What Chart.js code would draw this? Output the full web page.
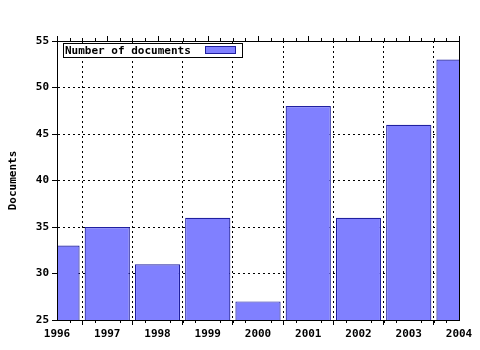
<!DOCTYPE html>
<html>
<head>
<meta charset="utf-8">
<script src="https://cdn.jsdelivr.net/npm/chart.js@4"></script>
<style>
  html, body { margin: 0; padding: 0; background: #fff; }
  #wrap { width: 480px; height: 350px; }
</style>
</head>
<body>
<div id="wrap"><canvas id="docs"></canvas></div>
<script>
const years = [1996, 1997, 1998, 1999, 2000, 2001, 2002, 2003, 2004];
const documents = [33, 35, 31, 36, 27, 48, 36, 46, 53];
const seriesLabel = 'Number of documents';
const yTicks = [25, 30, 35, 40, 45, 50, 55];

const FONT = '"DejaVu Sans Mono", "Liberation Mono", monospace';

// frame, top ticks, minor ticks and the boxed legend
const framePlugin = {
  id: 'frame',
  afterDraw(chart) {
    const ctx = chart.ctx;
    const a = chart.chartArea;
    const xs = chart.scales.x;
    ctx.save();
    ctx.strokeStyle = '#000';
    ctx.lineWidth = 1;
    ctx.setLineDash([]);
    ctx.strokeRect(Math.round(a.left) + 0.5, Math.round(a.top) + 0.5,
      Math.round(a.right - a.left), Math.round(a.bottom - a.top));

    ctx.beginPath();
    for (let i = 0; i < years.length; i++) {
      const px = Math.round(xs.getPixelForValue(years[i])) + 0.5;
      ctx.moveTo(px, a.top); ctx.lineTo(px, a.top - 5);
      if (i < years.length - 1) {
        for (let k = 1; k < 4; k++) {
          const mx = Math.round(xs.getPixelForValue(years[i] + k / 4)) + 0.5;
          ctx.moveTo(mx, a.top); ctx.lineTo(mx, a.top - 3);
          ctx.moveTo(mx, a.bottom); ctx.lineTo(mx, a.bottom + 3);
        }
      }
    }
    ctx.stroke();

    // legend
    const ds = chart.data.datasets[0];
    const lx = 63.5, ly = 43.5, lw = 179, lh = 14;
    ctx.fillStyle = '#fff';
    ctx.fillRect(lx, ly, lw, lh);
    ctx.strokeRect(lx, ly, lw, lh);
    ctx.fillStyle = '#000';
    ctx.font = 'bold 11px ' + FONT;
    ctx.textBaseline = 'middle';
    ctx.textAlign = 'left';
    ctx.fillText(ds.label, 65, ly + lh / 2 + 0.5);
    ctx.fillStyle = ds.backgroundColor;
    ctx.fillRect(205.5, 46.5, 30, 7);
    ctx.strokeStyle = ds.borderColor;
    ctx.strokeRect(205.5, 46.5, 30, 7);
    ctx.restore();
  }
};

new Chart(document.getElementById('docs'), {
  type: 'bar',
  data: {
    datasets: [{
      label: seriesLabel,
      data: years.map((y, i) => ({ x: y, y: documents[i] })),
      backgroundColor: '#8080ff',
      borderColor: '#2020a0',
      borderWidth: 1.2,
      borderSkipped: false,
      barPercentage: 0.9,
      categoryPercentage: 1.0
    }]
  },
  options: {
    responsive: true,
    maintainAspectRatio: false,
    animation: false,
    layout: { padding: { top: 41, right: 21, left: 0, bottom: 0 } },
    plugins: {
      legend: { display: false },
      tooltip: { enabled: false }
    },
    scales: {
      x: {
        type: 'linear',
        min: 1996,
        max: 2004,
        offset: false,
        afterFit: s => { s.height = 30; },
        afterBuildTicks: s => { s.ticks = years.map(v => ({ value: v })); },
        ticks: {
          color: '#000',
          font: { family: FONT, size: 11, weight: 'bold' },
          padding: 3,
          maxRotation: 0,
          callback: v => String(v)
        },
        grid: {
          color: '#000',
          tickBorderDash: [],
          tickLength: 5,
          tickColor: '#000'
        },
        border: { display: true, color: '#000', dash: [2, 3] }
      },
      y: {
        min: 25,
        max: 55,
        afterFit: s => { s.width = 57; },
        afterBuildTicks: s => { s.ticks = yTicks.map(v => ({ value: v })); },
        title: {
          display: true,
          text: 'Documents',
          color: '#000',
          font: { family: FONT, size: 11, weight: 'bold' },
          padding: { top: 7, bottom: 0 }
        },
        ticks: {
          color: '#000',
          font: { family: FONT, size: 11, weight: 'bold' },
          padding: 3
        },
        grid: {
          color: '#000',
          tickBorderDash: [],
          tickLength: 5,
          tickColor: '#000'
        },
        border: { display: true, color: '#000', dash: [2, 3] }
      }
    }
  },
  plugins: [framePlugin]
});
</script>
</body>
</html>
